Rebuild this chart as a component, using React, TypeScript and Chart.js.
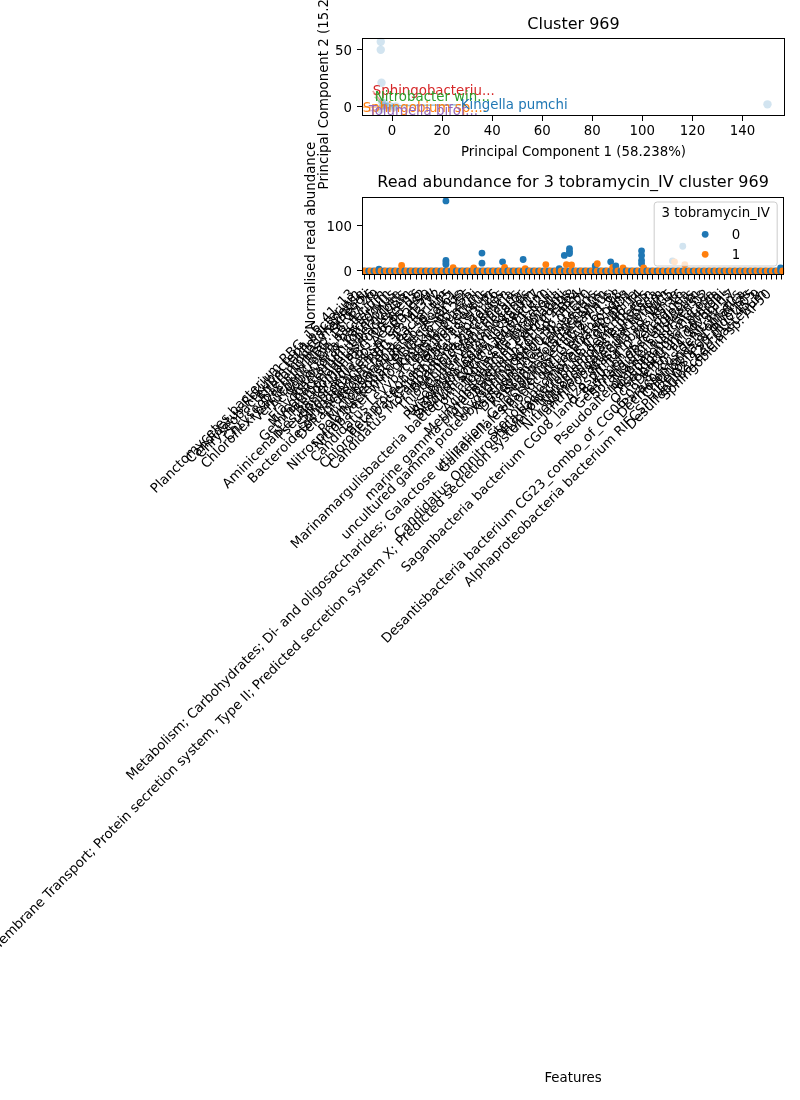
import React, { useEffect, useRef } from "react";
import { Chart, registerables } from "chart.js";
Chart.register(...registerables);

const FONT = "'DejaVu Sans', sans-serif";
const BLUE = "#1f77b4";
const ORANGE = "#ff7f0e";

// ---------- PCA panel ----------
const pcaTitle = "Cluster 969";
const pcaXLabel = "Principal Component 1 (58.238%)";
const pcaYLabel = "Principal Component 2 (15.216%)";
const pcaX = [-4.5, -4.5, -4.2, 150, -4, -3.5, -2, -1, 0.5, 1.5, -4.5, -3];
const pcaY = [56.5, 49.5, 21, 2.3, 4, 1, 0, 1, -0.5, 0.5, -2, 3];
const pcaXTicks = [0, 20, 40, 60, 80, 100, 120, 140];
const pcaYTicks = [0, 50];
const pcaLabels = ["Sphingobacteriu...", "Nitrobacter win...", "Sphingobium sp....", "Kingella pumchi", "Tolumella bifor..."];
const pcaLabelColors = ["#d62728", "#2ca02c", "#ff7f0e", "#1f77b4", "#9467bd"];
const pcaLabelX = [-7.7, -6.9, -11.7, 27.5, -9.3];
const pcaLabelY = [13.9, 8.9, -0.3, 2.0, -3.5];
const pcaTargetX = [-4, -3.5, -2, -1, -1];
const pcaTargetY = [4, 1, 0, 1, -0.5];

// ---------- Strip panel ----------
const stripTitle = "Read abundance for 3 tobramycin_IV cluster 969";
const stripXLabel = "Features";
const stripYLabel = "Normalised read abundance";
const legendTitle = "3 tobramycin_IV";
const hueLevels = ["0", "1"];
const stripYTicks = [0, 100];

const features = [
  "Planctomycetes bacterium RBG_16_41_13",
  "Candidatus Rokubacteria bacterium",
  "Chryseobacterium taklimakanense",
  "Alteromonas macleodii",
  "Chryseobacterium sp. StRB126",
  "Chloroflexi bacterium RBG_16_47_49",
  "Verrucomicrobia bacterium",
  "Acidobacteria bacterium",
  "Variovorax paradoxus",
  "Flavobacterium johnsoniae",
  "Mycobacterium tuberculosis",
  "Gemmatimonadetes bacterium",
  "Pseudomonas fluorescens",
  "Aminicenantes bacterium RBG_16_63_16",
  "Pseudonocardia sp. Ae505_Ps2",
  "Streptomyces sp. CB02959",
  "Sphingobacterium sp. ML3W",
  "Bacteroidetes bacterium RBG_13_43_22",
  "Deltaproteobacteria bacterium",
  "Rhodanobacter sp. 115",
  "Microbacterium sp. Root61",
  "Polynucleobacter necessarius",
  "Nitrospirae bacterium RBG_16_64_22",
  "Nitrobacter winogradskyi Nb-255",
  "Kingella pumchi",
  "Candidatus Levybacteria bacterium",
  "Bacillus cereus",
  "Betaproteobacteria bacterium",
  "Chloroflexi bacterium RBG_13_53_26",
  "Caulobacter vibrioides",
  "Candidatus Moranbacteria bacterium",
  "Burkholderia cepacia",
  "Thiobacillus denitrificans",
  "Cupriavidus necator",
  "Lysobacter enzymogenes",
  "Rhizobium leguminosarum",
  "Sphingomonas sp. Leaf17",
  "Bradyrhizobium japonicum",
  "Marinamargulisbacteria bacterium SCGC AAA071-K20",
  "Comamonas testosteroni",
  "Tolumella biformata",
  "Acinetobacter baumannii",
  "Methylobacterium extorquens",
  "marine gamma proteobacterium HTCC2148",
  "Arthrobacter sp. FB24",
  "Novosphingobium sp. PP1Y",
  "uncultured gamma proteobacterium HF0010_01E20",
  "Xanthomonas campestris",
  "Dyadobacter fermentans",
  "Ralstonia solanacearum",
  "Pedobacter heparinus",
  "Metabolism; Carbohydrates; Di- and oligosaccharides; Galactose utilization; Galactokinase (EC 2.7.1.6)",
  "Gallionellales bacterium GWA2_60_18",
  "Rhodococcus erythropolis",
  "Nitrospira sp. ND1",
  "Stenotrophomonas maltophilia",
  "Candidatus Omnitrophica bacterium CG1_02_46_14",
  "Hyphomicrobium denitrificans",
  "Membrane Transport; Protein secretion system, Type II; Predicted secretion system X; Predicted secretion system X transmembrane protein",
  "Nitrosomonas europaea",
  "Nitrosomonadales bacterium",
  "Janthinobacterium lividum",
  "Massilia sp. WG5",
  "Azospirillum brasilense",
  "Saganbacteria bacterium CG08_land_8_20_14_0_20_45_16",
  "Terrimonas ferruginea",
  "Gemmata obscuriglobus",
  "Sorangium cellulosum",
  "Niastella koreensis",
  "Pseudoalteromonas tunicata D2",
  "Roseomonas mucosa",
  "Pseudomonas putida",
  "Ochrobactrum anthropi",
  "Delftia acidovorans",
  "Desantisbacteria bacterium CG23_combo_of_CG06-09_8_20_14_all_39_17",
  "Paracoccus denitrificans",
  "Dechloromonas aromatica",
  "Chitinophaga pinensis",
  "Devosia sp. Root105",
  "Alphaproteobacteria bacterium RIFCSPHIGHO2_12_FULL_45_9",
  "Desulfobulbaceae bacterium",
  "Sphingobium sp. AP50",
];

// read abundances per feature, hue "0"
const group0Values: number[][] = [
  [0], [0], [0], [0, 4], [0], [0], [0], [0], [0], [0],
  [0], [0], [0], [0], [0], [0], [0, 153, 23, 18, 14], [0], [0], [0],
  [0], [0], [0], [0, 39, 17], [0], [0], [0], [0, 20], [0], [0],
  [0], [0, 25], [0], [0], [0], [0], [0], [0], [0, 5], [0, 34],
  [0, 49, 43, 38], [0], [0], [0], [0], [0, 11], [0], [0], [0, 20], [0, 11],
  [0], [0], [0], [0], [0, 44, 34, 23, 16], [0], [0], [0], [0], [0],
  [0, 22], [0], [0, 54], [0], [0], [0], [0], [0], [0], [0],
  [0], [0], [0], [0], [0], [0], [0], [0], [0], [0],
  [0], [0, 6.5],
];
// read abundances per feature, hue "1"
const group1Values: number[][] = [
  [0], [0], [0], [0], [0], [0], [0], [0, 12], [0], [0],
  [0], [0], [0], [0], [0], [0], [0], [0, 7], [0], [0],
  [0], [0, 6.5], [0], [0], [0], [0], [0], [0, 8], [0], [0],
  [0], [0, 5], [0], [0], [0], [0, 14], [0], [0], [0], [0, 14],
  [0, 13], [0], [0], [0], [0], [0, 16], [0], [0], [0, 8], [0],
  [0, 6.5], [0], [0], [0], [0, 6.5], [0], [0], [0], [0], [0],
  [0, 20], [0], [0, 14], [0], [0], [0], [0], [0], [0], [0],
  [0], [0], [0], [0], [0], [0], [0], [0], [0], [0],
  [0], [0],
];

const DODGE = 0.2;

const tickFont = { family: FONT, size: 13.33 };
const yTickFont = { family: FONT, size: 13.33, lineHeight: 0.3 };
const titleFont = { family: FONT, size: 13.33 };

const framePlugin = {
  id: "frame",
  afterDatasetsDraw(chart: any) {
    const { ctx, chartArea: a } = chart;
    ctx.save();
    ctx.strokeStyle = "#000";
    ctx.lineWidth = 1;
    const l = Math.round(a.left) + 0.5;
    const t = Math.round(a.top) + 0.5;
    const r = Math.round(a.right) - 0.5;
    const b = Math.round(a.bottom) - 0.5;
    ctx.strokeRect(l, t, r - l, b - t);
    ctx.restore();
  },
};

// axes title centred over the plotting area (like matplotlib's ax.set_title)
const panelTitlePlugin = {
  id: "panelTitle",
  afterDraw(chart: any, _args: any, opts: any) {
    const { ctx, chartArea: a } = chart;
    ctx.save();
    ctx.fillStyle = "#000";
    ctx.font = `16px ${FONT}`;
    ctx.textAlign = "center";
    ctx.textBaseline = "middle";
    ctx.fillText(opts.text, (a.left + a.right) / 2, a.top - opts.gap);
    ctx.restore();
  },
};

const annotPlugin = {
  id: "annot",
  afterDatasetsDraw(chart: any) {
    const { ctx } = chart;
    const xs = chart.scales.x;
    const ys = chart.scales.y;
    ctx.save();
    ctx.lineWidth = 1.5;
    pcaLabels.forEach((_, i) => {
      const tx = xs.getPixelForValue(pcaLabelX[i]);
      const ty = ys.getPixelForValue(pcaLabelY[i]);
      const px = xs.getPixelForValue(pcaTargetX[i]);
      const py = ys.getPixelForValue(pcaTargetY[i]);
      ctx.strokeStyle = pcaLabelColors[i];
      ctx.globalAlpha = 0.45;
      ctx.beginPath();
      ctx.moveTo(tx, ty);
      ctx.lineTo(px, py);
      ctx.stroke();
    });
    ctx.globalAlpha = 1;
    ctx.font = `13.33px ${FONT}`;
    ctx.textAlign = "left";
    ctx.textBaseline = "middle";
    pcaLabels.forEach((lab, i) => {
      ctx.fillStyle = pcaLabelColors[i];
      ctx.fillText(lab, xs.getPixelForValue(pcaLabelX[i]), ys.getPixelForValue(pcaLabelY[i]) + 1);
    });
    ctx.restore();
  },
};

const legendPlugin = {
  id: "hueLegend",
  afterDraw(chart: any) {
    const { ctx, chartArea: a } = chart;
    const w = 123;
    const h = 64;
    const x = a.right - 7 - w;
    const y = a.top + 5;
    const r = 3;
    ctx.save();
    ctx.beginPath();
    ctx.moveTo(x + r, y);
    ctx.lineTo(x + w - r, y);
    ctx.arcTo(x + w, y, x + w, y + r, r);
    ctx.lineTo(x + w, y + h - r);
    ctx.arcTo(x + w, y + h, x + w - r, y + h, r);
    ctx.lineTo(x + r, y + h);
    ctx.arcTo(x, y + h, x, y + h - r, r);
    ctx.lineTo(x, y + r);
    ctx.arcTo(x, y, x + r, y, r);
    ctx.closePath();
    ctx.fillStyle = "rgba(255,255,255,0.8)";
    ctx.fill();
    ctx.strokeStyle = "#cccccc";
    ctx.lineWidth = 1;
    ctx.stroke();
    ctx.fillStyle = "#000";
    ctx.font = `13.33px ${FONT}`;
    ctx.textBaseline = "middle";
    ctx.textAlign = "center";
    ctx.fillText(legendTitle, x + w / 2, y + 11.5);
    const colors = [BLUE, ORANGE];
    hueLevels.forEach((lv, i) => {
      const cy = y + 32.3 + 20 * i;
      ctx.fillStyle = colors[i];
      ctx.beginPath();
      ctx.arc(x + 51, cy, 3.4, 0, Math.PI * 2);
      ctx.fill();
      ctx.fillStyle = "#000";
      ctx.textAlign = "left";
      ctx.fillText(lv, x + 77.5, cy + 1);
    });
    ctx.restore();
  },
};

function axisGrid() {
  return {
    display: true,
    drawOnChartArea: false,
    drawTicks: true,
    tickLength: 5,
    color: "#000",
    tickColor: "#000",
    tickWidth: 1,
  };
}

export default function App() {
  const topRef = useRef<HTMLCanvasElement>(null);
  const botRef = useRef<HTMLCanvasElement>(null);

  useEffect(() => {
    const pcaData = pcaX.map((x, i) => ({ x, y: pcaY[i] }));
    const c1 = new Chart(topRef.current as HTMLCanvasElement, {
      type: "scatter",
      data: {
        datasets: [
          {
            data: pcaData,
            pointBackgroundColor: "rgba(31,119,180,0.2)",
            pointBorderWidth: 0,
            pointRadius: 4.2,
            pointHoverRadius: 4.2,
          } as any,
        ],
      },
      options: {
        animation: false,
        responsive: false,
        events: [],
        layout: { padding: { left: 300, right: 15, top: 37.7, bottom: 35 } },
        plugins: {
          legend: { display: false },
          tooltip: { enabled: false },
          title: { display: false },
          panelTitle: { text: pcaTitle, gap: 13 },
        },
        scales: {
          x: {
            type: "linear",
            min: -12,
            max: 157,
            afterBuildTicks: (ax: any) => {
              ax.ticks = pcaXTicks.map((v) => ({ value: v }));
            },
            afterFit: (ax: any) => {
              ax.height = 54;
            },
            grid: axisGrid(),
            border: { display: false },
            ticks: { color: "#000", font: tickFont, padding: 3, maxRotation: 0, autoSkip: false },
            title: { display: true, text: pcaXLabel, color: "#000", font: titleFont, padding: { top: 0, bottom: 9 } },
          },
          y: {
            type: "linear",
            min: -7.8,
            max: 60,
            afterBuildTicks: (ax: any) => {
              ax.ticks = pcaYTicks.map((v) => ({ value: v }));
            },
            afterFit: (ax: any) => {
              ax.width = 62;
            },
            grid: axisGrid(),
            border: { display: false },
            ticks: { color: "#000", font: yTickFont, padding: 5, callback: (v: any) => ["", String(v)] },
            title: { display: true, text: pcaYLabel, color: "#000", font: titleFont, padding: { top: 17, bottom: 0 } },
          },
        },
      } as any,
      plugins: [framePlugin, annotPlugin, panelTitlePlugin],
    });

    const stripPoints: { x: number; y: number; g: number }[] = [];
    features.forEach((_, i) => {
      group0Values[i].forEach((v) => stripPoints.push({ x: i - DODGE, y: v, g: 0 }));
      group1Values[i].forEach((v) => stripPoints.push({ x: i + DODGE, y: v, g: 1 }));
    });

    const c2 = new Chart(botRef.current as HTMLCanvasElement, {
      type: "scatter",
      data: {
        datasets: [
          {
            data: stripPoints,
            pointBackgroundColor: (ctx: any) => (ctx.raw && ctx.raw.g === 1 ? ORANGE : BLUE),
            pointBorderWidth: 0,
            pointRadius: 3.4,
            pointHoverRadius: 3.4,
          } as any,
        ],
      },
      options: {
        animation: false,
        responsive: false,
        events: [],
        layout: { padding: { left: 300, right: 15, top: 77, bottom: 4 } },
        plugins: {
          legend: { display: false },
          tooltip: { enabled: false },
          title: { display: false },
          panelTitle: { text: stripTitle, gap: 14 },
        },
        scales: {
          x: {
            type: "linear",
            min: -0.5,
            max: features.length - 0.5,
            afterBuildTicks: (ax: any) => {
              ax.ticks = features.map((_, i) => ({ value: i }));
            },
            afterFit: (ax: any) => {
              ax.height = 821.5;
            },
            grid: axisGrid(),
            border: { display: false },
            ticks: {
              color: "#000",
              font: tickFont,
              padding: 7,
              minRotation: 45,
              maxRotation: 45,
              autoSkip: false,
              labelOffset: -12,
              callback: (v: any) => features[v] ?? "",
            },
            title: { display: true, text: stripXLabel, color: "#000", font: titleFont, padding: { top: 0, bottom: 9 } },
          },
          y: {
            type: "linear",
            min: -7.7,
            max: 161.5,
            afterBuildTicks: (ax: any) => {
              ax.ticks = stripYTicks.map((v) => ({ value: v }));
            },
            afterFit: (ax: any) => {
              ax.width = 62;
            },
            grid: axisGrid(),
            border: { display: false },
            ticks: { color: "#000", font: yTickFont, padding: 5, callback: (v: any) => ["", String(v)] },
            title: { display: true, text: stripYLabel, color: "#000", font: titleFont, padding: { top: 4, bottom: 0 } },
          },
        },
      } as any,
      plugins: [framePlugin, legendPlugin, panelTitlePlugin],
    });

    return () => {
      c1.destroy();
      c2.destroy();
    };
  }, []);

  return (
    <div style={{ position: "absolute", left: 0, top: 0, width: 800, height: 1100 }}>
      <canvas
        ref={topRef}
        width={800}
        height={205}
        style={{ position: "absolute", left: 0, top: 0, width: 800, height: 205 }}
      />
      <canvas
        ref={botRef}
        width={800}
        height={980}
        style={{ position: "absolute", left: 0, top: 120, width: 800, height: 980 }}
      />
    </div>
  );
}
